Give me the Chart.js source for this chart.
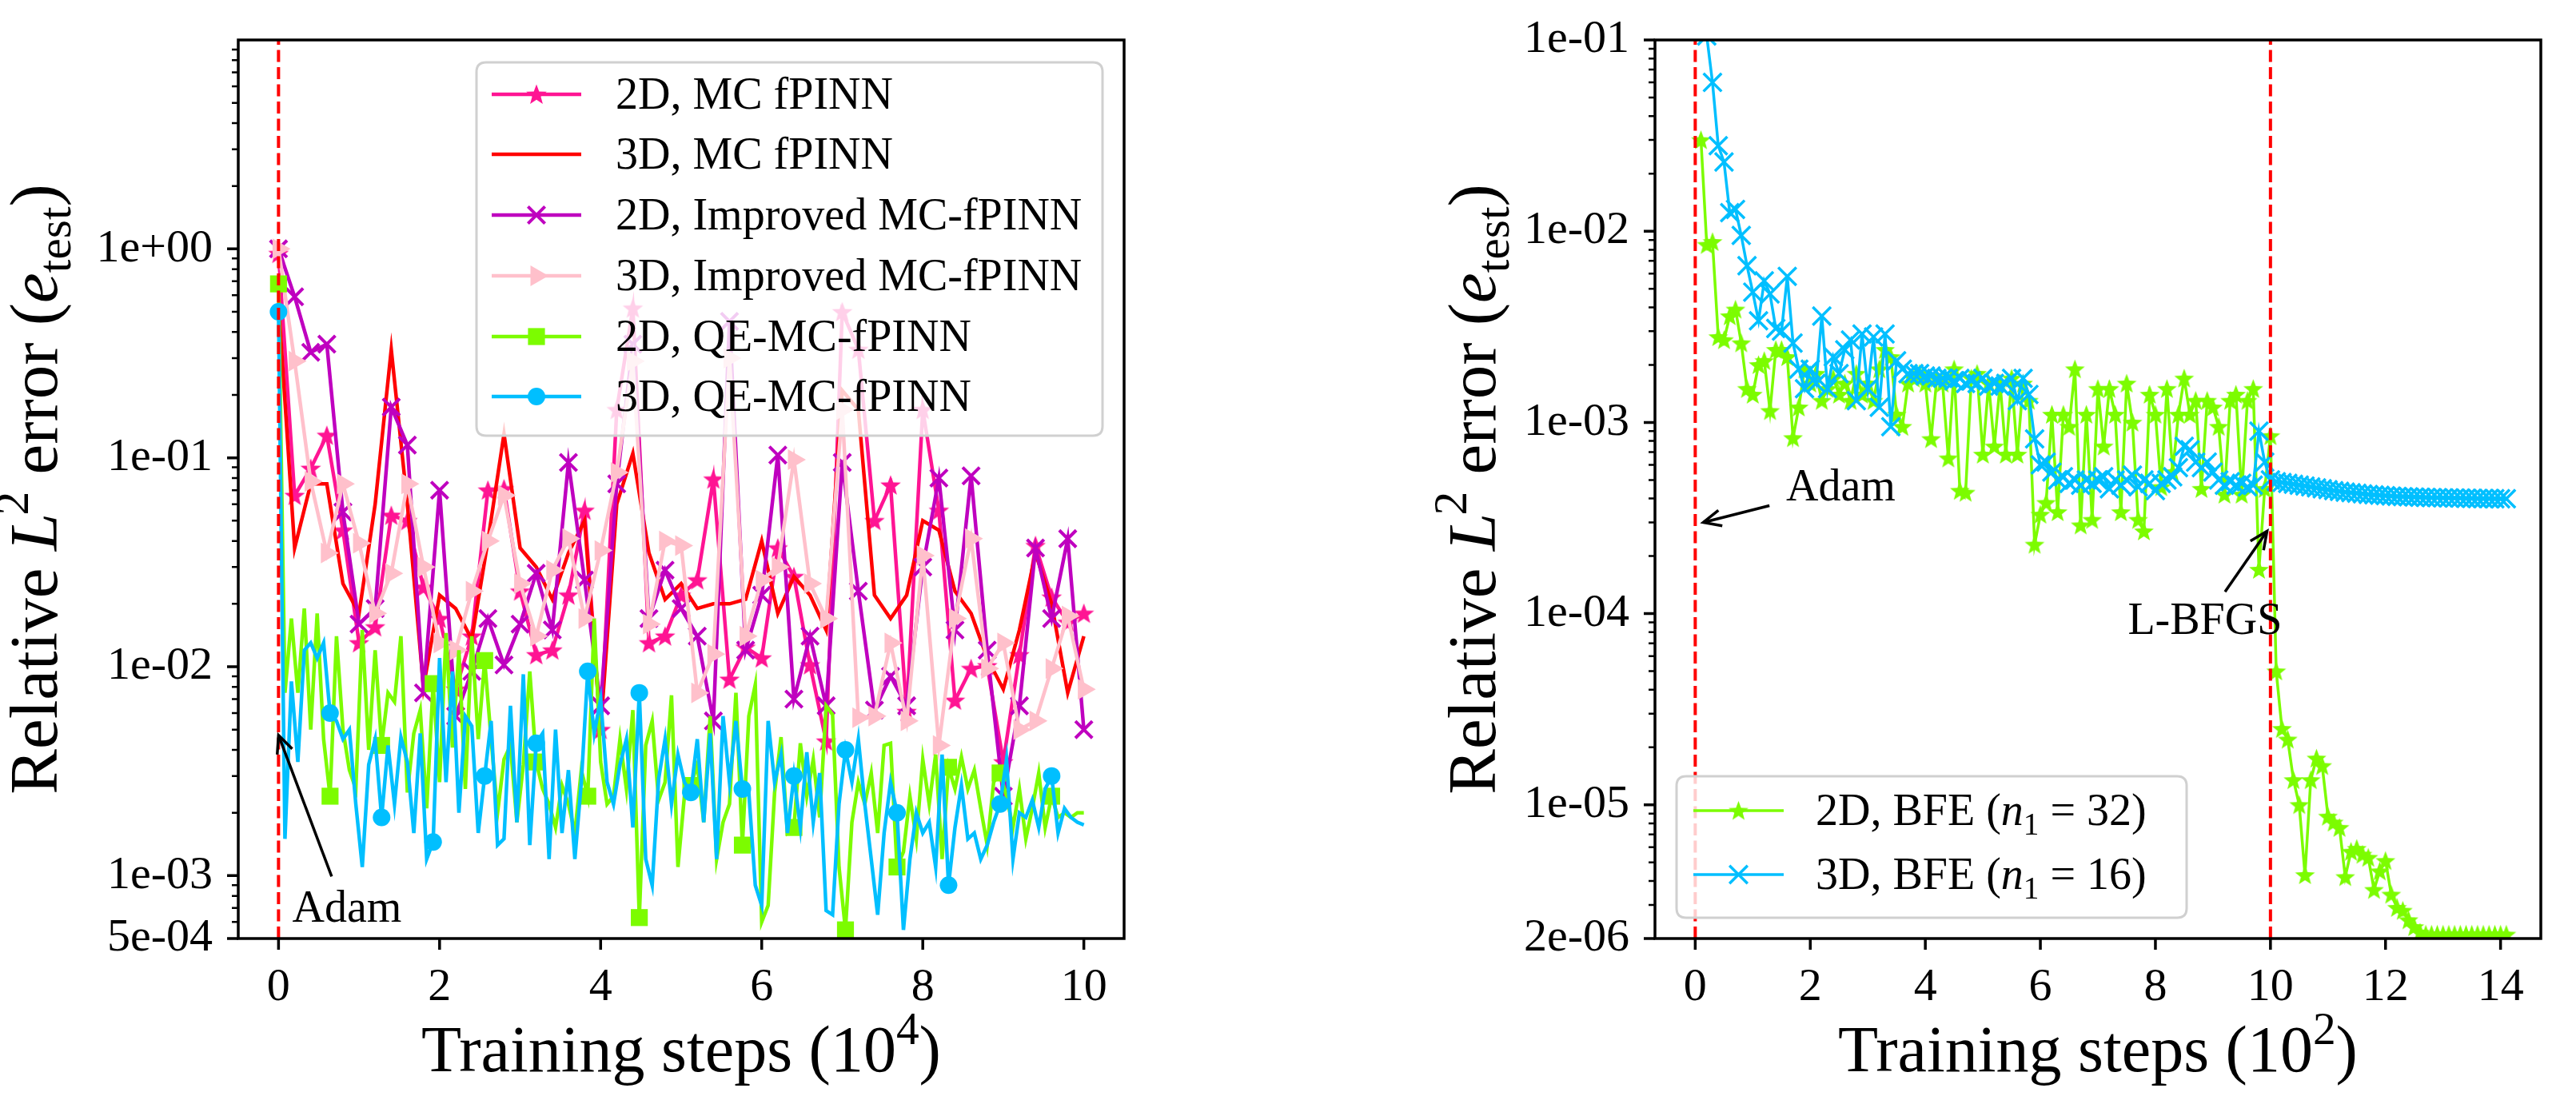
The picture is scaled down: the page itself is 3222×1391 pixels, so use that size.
<!DOCTYPE html>
<html><head><meta charset="utf-8">
<script src="https://cdn.jsdelivr.net/npm/chart.js@4.4.1/dist/chart.umd.min.js"></script>
<style>
html,body{margin:0;padding:0;background:#fff;}
#wrap{position:relative;width:3222px;height:1391px;overflow:hidden;background:#fff;}
canvas{position:absolute;top:0;}
#c1{left:0;} #c2{left:1700px;}
</style></head><body>
<div id="wrap"><canvas id="c1" width="1500" height="1391"></canvas><canvas id="c2" width="1522" height="1391"></canvas></div>
<script>
// ---------------- DATA ----------------
const leftLabels = ['2D, MC fPINN','3D, MC fPINN','2D, Improved MC-fPINN','3D, Improved MC-fPINN','2D, QE-MC-fPINN','3D, QE-MC-fPINN'];
const rightLabels = ['2D, BFE','3D, BFE'];
const rightLabelN = ['32','16'];

const mcSteps  = Array.from({length:51},  (_,i)=>Math.round(i*20)/100);     // 0 .. 10 (x 10^4)
const qeSteps  = Array.from({length:126}, (_,i)=>Math.round(i*8)/100);      // 0 .. 10 (x 10^4)
const bfeSteps = Array.from({length:141}, (_,i)=>Math.round(i*10+10)/100);  // 0.1 .. 14.1 (x 10^2)

const mc2D = [0.95,0.066,0.089,0.128,0.045,0.013,0.0155,0.053,0.05,0.024,0.017,0.0078,0.014,0.07,0.071,0.023,0.0114,0.012,0.022,0.056,0.005,0.17,0.52,0.013,0.014,0.022,0.026,0.079,0.0087,0.0124,0.011,0.037,0.027,0.0102,0.0044,0.5,0.33,0.05,0.074,0.0061,0.17,0.056,0.0069,0.0098,0.0101,0.0035,0.0114,0.038,0.0215,0.0163,0.018];
const mc3D = [0.55,0.037,0.075,0.075,0.025,0.018,0.06,0.33,0.06,0.008,0.022,0.019,0.0135,0.04,0.13,0.037,0.03,0.021,0.035,0.05,0.005,0.06,0.105,0.035,0.021,0.025,0.019,0.02,0.02,0.021,0.04,0.018,0.027,0.022,0.015,0.21,0.17,0.022,0.017,0.022,0.05,0.045,0.023,0.018,0.011,0.0078,0.015,0.035,0.02,0.0075,0.014];
const imp2D = [1.0,0.59,0.32,0.35,0.055,0.016,0.019,0.175,0.115,0.0075,0.07,0.0058,0.0095,0.017,0.0102,0.016,0.028,0.015,0.095,0.026,0.0065,0.075,0.35,0.017,0.029,0.019,0.014,0.0055,0.45,0.012,0.022,0.103,0.007,0.014,0.0065,0.095,0.023,0.0062,0.009,0.0065,0.03,0.08,0.015,0.082,0.012,0.0024,0.0065,0.037,0.017,0.041,0.005];
const imp3D = [1.0,0.29,0.077,0.035,0.075,0.039,0.018,0.028,0.075,0.03,0.013,0.012,0.023,0.04,0.066,0.025,0.014,0.029,0.041,0.017,0.036,0.085,0.29,0.016,0.04,0.038,0.0075,0.0115,0.3,0.014,0.026,0.03,0.098,0.025,0.017,0.17,0.0057,0.0058,0.013,0.0055,0.034,0.0042,0.017,0.041,0.0098,0.013,0.005,0.0055,0.0098,0.0175,0.0078];
const qe2D = [
 0.68,0.0075,0.017,0.0075,0.019,0.005,0.018,0.0045,
 0.0024,0.014,0.005,0.0032,0.0026,0.015,0.004,0.012,
 0.0042,0.0075,0.0068,0.014,0.0025,0.0048,0.0062,0.0021,
 0.0083,0.0028,0.0145,0.0041,0.012,0.0026,0.014,0.0045,
 0.0107,0.0045,0.002,0.0036,0.0042,0.0018,0.0034,0.0095,
 0.0035,0.0026,0.0022,0.0017,0.0027,0.0022,0.0016,0.0032,
 0.0024,0.017,0.0035,0.0022,0.0024,0.0045,0.0026,0.0062,
 0.00063,0.0042,0.0055,0.0023,0.0028,0.0073,0.0011,0.0024,
 0.0027,0.0034,0.0018,0.0058,0.0012,0.0018,0.0022,0.0075,
 0.0014,0.0058,0.0082,0.0006,0.00072,0.0025,0.0046,0.0016,
 0.0017,0.0043,0.0024,0.0036,0.0019,0.0065,0.0059,0.0011,
 0.00055,0.0018,0.0028,0.0022,0.0031,0.0016,0.0042,0.0043,
 0.0011,0.0013,0.0024,0.0015,0.0036,0.0022,0.0038,0.0012,
 0.0033,0.0026,0.0037,0.0026,0.0032,0.0021,0.0014,0.0028,
 0.0031,0.0024,0.0017,0.0026,0.0015,0.0021,0.0031,0.0017,
 0.0024,0.0019,0.002,0.0019,0.002,0.002];
const qe3D = [
 0.5,0.0015,0.0085,0.0035,0.012,0.013,0.011,0.013,
 0.006,0.0055,0.0045,0.005,0.0022,0.0011,0.0034,0.0045,
 0.0019,0.0042,0.0022,0.0046,0.0035,0.0016,0.0048,0.0012,
 0.00145,0.011,0.0028,0.0095,0.002,0.0058,0.0052,0.0016,
 0.003,0.0055,0.0014,0.0015,0.0065,0.0018,0.0092,0.0014,
 0.0043,0.0048,0.0012,0.005,0.0016,0.0032,0.0012,0.0028,
 0.0095,0.0048,0.007,0.0028,0.0022,0.0034,0.0045,0.0017,
 0.0075,0.0012,0.0009,0.0029,0.0045,0.0022,0.0038,0.0028,
 0.0025,0.0045,0.0018,0.0048,0.0012,0.0058,0.0028,0.0055,
 0.0026,0.0025,0.0009,0.00072,0.0055,0.0028,0.0038,0.0016,
 0.003,0.0017,0.0039,0.0018,0.0031,0.00068,0.00065,0.0022,
 0.004,0.0028,0.0045,0.0022,0.0012,0.00065,0.0016,0.0028,
 0.002,0.00055,0.0012,0.002,0.0016,0.0018,0.0011,0.0038,
 0.0009,0.0017,0.0027,0.0015,0.0016,0.0012,0.0014,0.0018,
 0.0022,0.0036,0.0012,0.002,0.0019,0.0023,0.0017,0.0026,
 0.003,0.0016,0.0021,0.0019,0.0018,0.00175];
const bfe2D = [
 0.03,0.0085,0.0088,0.0028,0.0027,0.0036,0.0039,0.0026,0.0015,0.0014,
 0.002,0.0021,0.00115,0.0024,0.0024,0.0022,0.00083,0.0012,0.0019,0.0016,
 0.0018,0.0013,0.0015,0.0017,0.0014,0.0016,0.0013,0.0018,0.0014,0.0016,
 0.0013,0.0019,0.0024,0.0022,0.0011,0.00095,0.0016,0.0017,0.0018,0.0016,
 0.00082,0.0017,0.0016,0.00065,0.0019,0.00044,0.00043,0.0017,0.0018,0.00068,
 0.0016,0.00075,0.0016,0.00068,0.0017,0.00068,0.0016,0.0013,0.00023,0.00033,
 0.00038,0.0011,0.00034,0.0011,0.00095,0.0019,0.00029,0.0011,0.00031,0.0015,
 0.00075,0.0015,0.0011,0.00034,0.0016,0.001,0.00031,0.00027,0.0014,0.0011,
 0.00046,0.0015,0.00055,0.0011,0.0017,0.0011,0.0013,0.00045,0.0013,0.0012,
 0.00095,0.00042,0.0013,0.0014,0.00042,0.0013,0.0015,0.00017,0.00045,0.00085,
 0.00005,0.000025,0.000022,0.0000135,0.00001,0.0000043,0.0000135,0.0000175,0.000016,0.0000087,
 0.0000081,0.0000076,0.0000042,0.0000057,0.0000059,0.0000055,0.0000053,0.0000036,0.0000045,0.0000051,
 0.0000034,0.0000029,0.0000028,0.0000025,0.0000023,0.00000215,0.0000021,0.0000021,0.0000021,0.0000021,
 0.0000021,0.0000021,0.0000021,0.0000021,0.0000021,0.0000021,0.0000021,0.0000021,0.0000021,0.0000021,
 0.0000021];
const bfe3D = [
 0.2,0.105,0.06,0.028,0.023,0.0125,0.013,0.0095,0.0066,0.0048,
 0.0034,0.0055,0.0047,0.0031,0.003,0.0058,0.0026,0.0019,0.0015,0.0019,
 0.0016,0.0036,0.0015,0.0022,0.0018,0.0024,0.0027,0.0013,0.0029,0.0015,
 0.0028,0.0012,0.0029,0.00095,0.0021,0.0019,0.0018,0.0018,0.0018,0.00175,
 0.00175,0.0017,0.0017,0.0017,0.00165,0.0017,0.0016,0.00165,0.0016,0.0017,
 0.00155,0.0016,0.00155,0.0016,0.0017,0.0013,0.0017,0.0014,0.00082,0.0006,
 0.00062,0.00055,0.0005,0.00052,0.00048,0.0005,0.00047,0.0005,0.00048,0.0005,
 0.00052,0.00045,0.0005,0.00047,0.0005,0.00053,0.00046,0.0005,0.00048,0.00044,
 0.00048,0.0005,0.00052,0.00058,0.00075,0.00072,0.00062,0.00058,0.00062,0.00055,
 0.0005,0.00047,0.00049,0.00047,0.00048,0.00046,0.00047,0.0009,0.00062,0.0005,
 0.00049,0.000485,0.00048,0.000475,0.00047,0.000465,0.00046,0.000455,0.00045,0.000445,
 0.00044,0.000436,0.000432,0.000429,0.000426,0.000423,0.00042,0.000418,0.000416,0.000414,
 0.000412,0.00041,0.000409,0.000408,0.000407,0.000406,0.000405,0.000404,0.000404,0.000403,
 0.000403,0.000402,0.000402,0.000401,0.000401,0.0004,0.0004,0.0004,0.000399,0.000399,
 0.000399];

const leftXTicks = [0,2,4,6,8,10];
const leftYTicks = [5e-4,1e-3,1e-2,1e-1,1];
const leftYTickLabels = ['5e-04','1e-03','1e-02','1e-01','1e+00'];
const rightXTicks = [0,2,4,6,8,10,12,14];
const rightYTicks = [2e-6,1e-5,1e-4,1e-3,1e-2,1e-1];
const rightYTickLabels = ['2e-06','1e-05','1e-04','1e-03','1e-02','1e-01'];

const leftVLines = [0];
const rightVLines = [0, 10];
// annotations: text anchor (x, y) and arrow tail -> tip, in data coordinates
const leftNotes = [{text:'Adam', at:[0.17,6.0e-4], tail:[0.66,9.9e-4], tip:[0.0,4.7e-3]}];
const rightNotes = [
  {text:'Adam',   at:[1.58,3.9e-4], tail:[1.29,3.67e-4], tip:[0.14,3.0e-4]},
  {text:'L-BFGS', at:[7.52,7.8e-5], tail:[9.21,1.3e-4],  tip:[9.94,2.7e-4]}
];

// ---------------- STYLE ----------------
const FONT = "'Liberation Serif', 'DejaVu Serif', serif";
const TICK_FS = 58, LEG_FS = 56, XT_FS = 82, YT_FS = 85;
const C = {pink:'#ff1493', red:'#ff0000', mag:'#bf00bf', lpink:'#ffc0cb', green:'#7cfc00', blue:'#00bfff'};

function starImage(color, size){
  const c = document.createElement('canvas'); c.width = c.height = size;
  const g = c.getContext('2d'); const cx=size/2, cy=size/2+1, R=size/2-0.5, r=R*0.42;
  g.beginPath();
  for (let k=0;k<10;k++){ const a=-Math.PI/2+k*Math.PI/5, rr=(k%2)?r:R; g.lineTo(cx+rr*Math.cos(a), cy+rr*Math.sin(a)); }
  g.closePath(); g.fillStyle=color; g.fill(); return c;
}
const starPink = starImage(C.pink, 28);
const starGreen = starImage(C.green, 27);

function fontFor(p, fs){ const s=(p.s==='sup'||p.s==='sub')?fs*0.7:fs; return (p.s==='i'?'italic ':'')+s+'px '+FONT; }
function richWidth(ctx, parts, fs){ let w=0; for(const p of parts){ ctx.font=fontFor(p,fs); w+=ctx.measureText(p.t).width+(p.kern||0)*fs; } return w; }
function drawRich(ctx, parts, x, y, fs){
  let cx=x;
  for(const p of parts){ ctx.font=fontFor(p,fs); const dy=p.s==='sup'?-0.42*fs:(p.s==='sub'?0.2*fs:0);
    cx+=(p.kern||0)*fs; ctx.fillText(p.t, cx, y+dy); cx+=ctx.measureText(p.t).width; }
}
function drawMarker(ctx, m, x, y){
  if (!m) return;
  if (m.img){ ctx.drawImage(m.img, x-m.img.width/2, y-m.img.height/2); return; }
  ctx.fillStyle=m.color; ctx.strokeStyle=m.color; ctx.lineWidth=m.bw||0;
  ctx.beginPath();
  if (m.style==='rect'){ const s=m.r*Math.SQRT1_2; ctx.rect(x-s,y-s,2*s,2*s); ctx.fill(); }
  else if (m.style==='circle'){ ctx.arc(x,y,m.r,0,Math.PI*2); ctx.fill(); }
  else if (m.style==='triangleR'){ let a=Math.PI/2; ctx.moveTo(x+Math.sin(a)*m.r,y-Math.cos(a)*m.r); a+=2*Math.PI/3;
    ctx.lineTo(x+Math.sin(a)*m.r,y-Math.cos(a)*m.r); a+=2*Math.PI/3; ctx.lineTo(x+Math.sin(a)*m.r,y-Math.cos(a)*m.r); ctx.closePath(); ctx.fill(); }
  else if (m.style==='crossRot'){ const d=m.r*Math.SQRT1_2; ctx.moveTo(x-d,y-d); ctx.lineTo(x+d,y+d); ctx.moveTo(x+d,y-d); ctx.lineTo(x-d,y+d); ctx.stroke(); }
}
function arrow(ctx, x0,y0,x1,y1){
  ctx.beginPath(); ctx.moveTo(x0,y0); ctx.lineTo(x1,y1); ctx.stroke();
  const a=Math.atan2(y1-y0,x1-x0), L=22, W=10;
  const bx=x1-L*Math.cos(a), by=y1-L*Math.sin(a), nx=-Math.sin(a), ny=Math.cos(a);
  ctx.beginPath(); ctx.moveTo(bx+nx*W,by+ny*W); ctx.lineTo(x1,y1); ctx.lineTo(bx-nx*W,by-ny*W); ctx.stroke();
}
function roundRect(ctx,l,t,r,b,rad){
  ctx.beginPath(); ctx.moveTo(l+rad,t); ctx.lineTo(r-rad,t); ctx.quadraticCurveTo(r,t,r,t+rad); ctx.lineTo(r,b-rad);
  ctx.quadraticCurveTo(r,b,r-rad,b); ctx.lineTo(l+rad,b); ctx.quadraticCurveTo(l,b,l,b-rad); ctx.lineTo(l,t+rad); ctx.quadraticCurveTo(l,t,l+rad,t); ctx.closePath();
}

const decor = {
  id:'mplDecor',
  afterDatasetsDraw(chart, args, o){
    const ctx=chart.ctx, ca=chart.chartArea, xs=chart.scales.x, ys=chart.scales.y;
    // vertical dashed lines
    ctx.save(); ctx.beginPath(); ctx.rect(ca.left,ca.top,ca.right-ca.left,ca.bottom-ca.top); ctx.clip();
    ctx.strokeStyle='#ff0000'; ctx.lineWidth=4; ctx.setLineDash([15,6.5]);
    for(const v of o.vlines){ const px=xs.getPixelForValue(v); ctx.beginPath(); ctx.moveTo(px,ca.bottom); ctx.lineTo(px,ca.top); ctx.stroke(); }
    ctx.restore();
    // annotations
    ctx.save(); ctx.strokeStyle='#000'; ctx.fillStyle='#000'; ctx.lineWidth=3.5; ctx.textBaseline='alphabetic'; ctx.textAlign='left';
    for(const n of o.notes){
      ctx.font=LEG_FS+'px '+FONT;
      ctx.fillText(n.text, xs.getPixelForValue(n.at[0]), ys.getPixelForValue(n.at[1]));
      arrow(ctx, xs.getPixelForValue(n.tail[0]), ys.getPixelForValue(n.tail[1]), xs.getPixelForValue(n.tip[0]), ys.getPixelForValue(n.tip[1]));
    }
    ctx.restore();
    // legend
    const L=o.legend; ctx.save();
    roundRect(ctx,L.box[0],L.box[1],L.box[2],L.box[3],12);
    ctx.fillStyle='rgba(255,255,255,0.8)'; ctx.fill(); ctx.strokeStyle='#d0d0d0'; ctx.lineWidth=3; ctx.stroke();
    for(const r of L.rows){
      ctx.strokeStyle=r.color; ctx.lineWidth=r.lw; ctx.setLineDash([]);
      ctx.beginPath(); ctx.moveTo(L.hx0,r.y); ctx.lineTo(L.hx1,r.y); ctx.stroke();
      drawMarker(ctx, r.marker, (L.hx0+L.hx1)/2, r.y);
      ctx.fillStyle='#000'; ctx.textAlign='left'; ctx.textBaseline='alphabetic';
      drawRich(ctx, r.parts, L.tx, r.y+0.33*LEG_FS, LEG_FS);
    }
    ctx.restore();
    // spines
    ctx.save(); ctx.strokeStyle='#000'; ctx.lineWidth=3.5;
    ctx.strokeRect(ca.left,ca.top,ca.right-ca.left,ca.bottom-ca.top);
    // major ticks
    ctx.lineWidth=3.5; ctx.beginPath();
    for(const v of o.xticks){ const px=xs.getPixelForValue(v); ctx.moveTo(px,ca.bottom); ctx.lineTo(px,ca.bottom+14); }
    for(const v of o.yticks){ const py=ys.getPixelForValue(v); ctx.moveTo(ca.left,py); ctx.lineTo(ca.left-14,py); }
    ctx.stroke();
    // minor ticks (log)
    ctx.lineWidth=2.5; ctx.beginPath();
    for(let e=-8;e<=2;e++){ for(let k=2;k<=9;k++){ const v=k*Math.pow(10,e);
      if (v < ys.min*0.9999 || v > ys.max*1.0001) continue;
      if (o.yticks.some(t=>Math.abs(t-v)/v<1e-6)) continue;
      const py=ys.getPixelForValue(v); ctx.moveTo(ca.left,py); ctx.lineTo(ca.left-8,py); } }
    ctx.stroke(); ctx.restore();
    // axis titles
    ctx.save(); ctx.fillStyle='#000'; ctx.textAlign='left'; ctx.textBaseline='alphabetic';
    const wx=richWidth(ctx,o.xtitle,XT_FS);
    drawRich(ctx,o.xtitle,(ca.left+ca.right)/2-wx/2,1340,XT_FS);
    const wy=richWidth(ctx,o.ytitle,YT_FS);
    ctx.translate(ca.left-o.ytitleGap,(ca.top+ca.bottom)/2); ctx.rotate(-Math.PI/2);
    drawRich(ctx,o.ytitle,-wy/2,0,YT_FS);
    ctx.restore();
  }
};

const yTitleParts = [{t:'Relative '},{t:'L',s:'i'},{t:'2',s:'sup',kern:-0.03},{t:' error ('},{t:'e',s:'i'},{t:'test',s:'sub'},{t:')'}];
const xTitleLeft = [{t:'Training steps (10'},{t:'4',s:'sup'},{t:')'}];
const xTitleRight = [{t:'Training steps (10'},{t:'2',s:'sup'},{t:')'}];

function pts(xs, ys){ return ys.map((y,i)=>({x:xs[i], y})); }
function labelFor(ticks, labels){ return v => { const i=ticks.findIndex(t=>Math.abs(t-v)/t<1e-6); return i<0?'':labels[i]; }; }

function scalesFor(xmin,xmax,xticks,ymin,ymax,yticks,ylabels,yWidth){
  return {
    x:{type:'linear',min:xmin,max:xmax,
       afterBuildTicks:s=>{s.ticks=xticks.map(v=>({value:v}));},
       afterFit:s=>{s.height=217;},
       ticks:{autoSkip:false,maxRotation:0,padding:19,color:'#000',font:{family:FONT,size:TICK_FS,lineHeight:1},callback:v=>String(v)},
       grid:{display:false,drawTicks:true,tickLength:14}, border:{display:false}},
    y:{type:'logarithmic',min:ymin,max:ymax,
       afterBuildTicks:s=>{s.ticks=yticks.map(v=>({value:v}));},
       afterFit:s=>{s.width=yWidth;},
       ticks:{autoSkip:false,padding:18,color:'#000',font:{family:FONT,size:TICK_FS,lineHeight:1},callback:labelFor(yticks,ylabels)},
       grid:{display:false,drawTicks:true,tickLength:14}, border:{display:false}}
  };
}

// ---------------- LEFT CHART ----------------
const markEvery = r => ctx => (ctx.dataIndex % 8 === 0 ? r : 0);
new Chart(document.getElementById('c1'), {
  type:'line',
  data:{datasets:[
    {label:leftLabels[0], data:pts(mcSteps,mc2D), borderColor:C.pink, borderWidth:4.5, pointStyle:starPink, pointRadius:10, order:6},
    {label:leftLabels[1], data:pts(mcSteps,mc3D), borderColor:C.red, borderWidth:4.5, pointRadius:0, order:5},
    {label:leftLabels[2], data:pts(mcSteps,imp2D), borderColor:C.mag, borderWidth:4.5, pointStyle:'crossRot', pointRadius:15, pointBorderWidth:4, pointBorderColor:C.mag, pointBackgroundColor:C.mag, order:4},
    {label:leftLabels[3], data:pts(mcSteps,imp3D), borderColor:C.lpink, borderWidth:4.5, pointStyle:'triangle', pointRotation:90, pointRadius:15, pointBorderWidth:0, pointBackgroundColor:C.lpink, order:3},
    {label:leftLabels[4], data:pts(qeSteps,qe2D), borderColor:C.green, borderWidth:4.5, pointStyle:'rect', pointRadius:markEvery(15), pointBorderWidth:0, pointBackgroundColor:C.green, order:2},
    {label:leftLabels[5], data:pts(qeSteps,qe3D), borderColor:C.blue, borderWidth:4.5, pointStyle:'circle', pointRadius:markEvery(11), pointBorderWidth:0, pointBackgroundColor:C.blue, order:1}
  ].map(d=>Object.assign({tension:0, clip:0, fill:false, backgroundColor:d.borderColor}, d))},
  options:{
    responsive:false, animation:false, devicePixelRatio:1, events:[],
    layout:{padding:{top:50,right:94,left:0,bottom:0}},
    scales:scalesFor(-0.5,10.5,leftXTicks,5e-4,10,leftYTicks,leftYTickLabels,298),
    plugins:{legend:{display:false}, tooltip:{enabled:false},
      mplDecor:{vlines:leftVLines, notes:leftNotes, xticks:leftXTicks, yticks:leftYTicks,
        xtitle:xTitleLeft, ytitle:yTitleParts, ytitleGap:227,
        legend:{box:[596,78,1379,545], hx0:615, hx1:727, tx:770, rows:[
          {y:118, color:C.pink, lw:4.5, parts:[{t:leftLabels[0]}], marker:{img:starPink}},
          {y:193, color:C.red, lw:4.5, parts:[{t:leftLabels[1]}], marker:null},
          {y:269, color:C.mag, lw:4.5, parts:[{t:leftLabels[2]}], marker:{style:'crossRot', r:15, bw:4, color:C.mag}},
          {y:345, color:C.lpink, lw:4.5, parts:[{t:leftLabels[3]}], marker:{style:'triangleR', r:15, color:C.lpink}},
          {y:421, color:C.green, lw:4.5, parts:[{t:leftLabels[4]}], marker:{style:'rect', r:15, color:C.green}},
          {y:496, color:C.blue, lw:4.5, parts:[{t:leftLabels[5]}], marker:{style:'circle', r:11, color:C.blue}}
        ]}}}
  },
  plugins:[decor]
});

// ---------------- RIGHT CHART ----------------
new Chart(document.getElementById('c2'), {
  type:'line',
  data:{datasets:[
    {label:rightLabels[0]+' (n1 = '+rightLabelN[0]+')', data:pts(bfeSteps,bfe2D), borderColor:C.green, borderWidth:3.5, pointStyle:starGreen, pointRadius:10, order:2},
    {label:rightLabels[1]+' (n1 = '+rightLabelN[1]+')', data:pts(bfeSteps,bfe3D), borderColor:C.blue, borderWidth:3.5, pointStyle:'crossRot', pointRadius:16, pointBorderWidth:3.5, pointBorderColor:C.blue, order:1}
  ].map(d=>Object.assign({tension:0, clip:0, fill:false, backgroundColor:d.borderColor}, d))},
  options:{
    responsive:false, animation:false, devicePixelRatio:1, events:[],
    layout:{padding:{top:50,right:44,left:0,bottom:0}},
    scales:scalesFor(-0.7,14.7,rightXTicks,2e-6,0.1,rightYTicks,rightYTickLabels,370),
    plugins:{legend:{display:false}, tooltip:{enabled:false},
      mplDecor:{vlines:rightVLines, notes:rightNotes, xticks:rightXTicks, yticks:rightYTicks,
        xtitle:xTitleRight, ytitle:yTitleParts, ytitleGap:200,
        legend:{box:[397,971,1035,1148], hx0:418, hx1:531, tx:571, rows:[
          {y:1014, color:C.green, lw:3.5, parts:[{t:rightLabels[0]+' ('},{t:'n',s:'i'},{t:'1',s:'sub'},{t:' = '+rightLabelN[0]+')'}], marker:{img:starGreen}},
          {y:1094, color:C.blue, lw:3.5, parts:[{t:rightLabels[1]+' ('},{t:'n',s:'i'},{t:'1',s:'sub'},{t:' = '+rightLabelN[1]+')'}], marker:{style:'crossRot', r:16, bw:3.5, color:C.blue}}
        ]}}}
  },
  plugins:[decor]
});
</script>
</body></html>
